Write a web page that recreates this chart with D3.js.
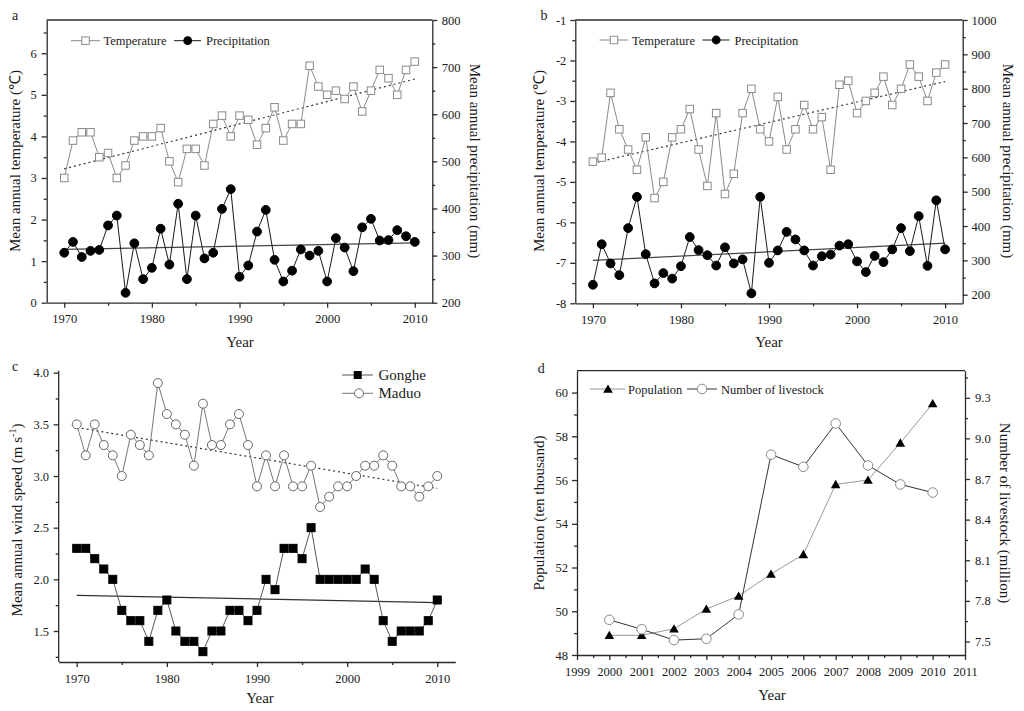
<!DOCTYPE html>
<html><head><meta charset="utf-8">
<script src="https://cdn.jsdelivr.net/npm/d3@7"></script>
<style>body{margin:0;background:#fff}</style>
</head><body><svg id="c" width="1024" height="711"></svg>
<script>
// ---------------- DATA ----------------
const years = [1970,1971,1972,1973,1974,1975,1976,1977,1978,1979,1980,1981,1982,1983,1984,1985,1986,1987,1988,1989,1990,1991,1992,1993,1994,1995,1996,1997,1998,1999,2000,2001,2002,2003,2004,2005,2006,2007,2008,2009,2010];
const tempA = [3.0,3.9,4.1,4.1,3.5,3.6,3.0,3.3,3.9,4.0,4.0,4.2,3.4,2.9,3.7,3.7,3.3,4.3,4.5,4.0,4.5,4.4,3.8,4.2,4.7,3.9,4.3,4.3,5.7,5.2,5.0,5.1,4.9,5.2,4.6,5.1,5.6,5.4,5.0,5.6,5.8];
const precA = [306,329,297,310,312,364,385,221,326,250,274,357,281,410,250,385,294,306,399,441,255,279,351,397,291,245,268,313,300,310,245,337,317,267,360,378,332,333,354,341,329];
const tempB = [-4.5,-4.4,-2.8,-3.7,-4.2,-4.7,-3.9,-5.4,-5.0,-3.9,-3.7,-3.2,-4.2,-5.1,-3.3,-5.3,-4.8,-3.3,-2.7,-3.7,-4.0,-2.9,-4.2,-3.7,-3.1,-3.7,-3.4,-4.7,-2.6,-2.5,-3.3,-3.0,-2.8,-2.4,-3.1,-2.7,-2.1,-2.4,-3.0,-2.3,-2.1];
const precB = [229,347,291,257,394,485,318,233,263,247,283,368,330,315,285,338,291,303,204,485,293,329,383,361,329,285,312,317,343,347,297,266,313,295,332,394,327,429,284,475,332];
const gonghe = [2.3,2.3,2.2,2.1,2.0,1.7,1.6,1.6,1.4,1.7,1.8,1.5,1.4,1.4,1.3,1.5,1.5,1.7,1.7,1.6,1.7,2.0,1.9,2.3,2.3,2.2,2.5,2.0,2.0,2.0,2.0,2.0,2.1,2.0,1.6,1.4,1.5,1.5,1.5,1.6,1.8];
const maduo = [3.5,3.2,3.5,3.3,3.2,3.0,3.4,3.3,3.2,3.9,3.6,3.5,3.4,3.1,3.7,3.3,3.3,3.5,3.6,3.3,2.9,3.2,2.9,3.2,2.9,2.9,3.1,2.7,2.8,2.9,2.9,3.0,3.1,3.1,3.2,3.1,2.9,2.9,2.8,2.9,3.0];
const yearsD = [2000,2001,2002,2003,2004,2005,2006,2007,2008,2009,2010];
const population = [48.9,48.9,49.2,50.1,50.7,51.7,52.6,55.8,56.0,57.7,59.5];
const livestock = [7.66,7.59,7.51,7.52,7.70,8.88,8.79,9.11,8.80,8.66,8.60];
// trend line end points (1970 and 2010)
const trendYears = [1970,2010];
const trendTempA = [3.22,5.38];
const trendPrecA = [313,327];
const trendTempB = [-4.54,-2.52];
const trendPrecB = [300,350];
const trendMaduo = [3.47,2.88];
const trendGonghe = [1.845,1.775];
// tick labels
const yearTicks = [1970,1980,1990,2000,2010];
const yearMinor = [1975,1985,1995,2005];
const ticksA_L = [0,1,2,3,4,5,6];
const minorA_L = [0.5,1.5,2.5,3.5,4.5,5.5,6.5];
const ticksA_R = [200,300,400,500,600,700,800];
const minorA_R = [250,350,450,550,650,750];
const ticksB_L = [-8,-7,-6,-5,-4,-3,-2,-1];
const minorB_L = [-7.5,-6.5,-5.5,-4.5,-3.5,-2.5,-1.5];
const ticksB_R = [200,300,400,500,600,700,800,900,1000];
const minorB_R = [250,350,450,550,650,750,850,950];
const ticksC = [1.5,2.0,2.5,3.0,3.5,4.0];
const minorC = [1.25,1.75,2.25,2.75,3.25,3.75];
const yearTicksD = [1999,2000,2001,2002,2003,2004,2005,2006,2007,2008,2009,2010,2011];
const yearMinorD = [1999.5,2000.5,2001.5,2002.5,2003.5,2004.5,2005.5,2006.5,2007.5,2008.5,2009.5,2010.5];
const ticksD_L = [48,50,52,54,56,58,60];
const minorD_L = [49,51,53,55,57,59];
const ticksD_R = [7.5,7.8,8.1,8.4,8.7,9.0,9.3];
const minorD_R = [7.65,7.95,8.25,8.55,8.85,9.15,9.45];

// ---------------- DRAWING ----------------
const F = '"Liberation Serif","Times New Roman",Times,serif';
const svg = d3.select('#c');
const AX = '#2b2b2b';

function axis(x, y, gen, scale, major, minor, fmt, pad) {
  const g = svg.append('g').attr('transform', `translate(${x},${y})`);
  g.call(gen(scale).tickValues(major).tickSize(5).tickSizeOuter(0).tickPadding(pad).tickFormat(fmt));
  const m = g.append('g').call(gen(scale).tickValues(minor).tickSize(3).tickSizeOuter(0).tickFormat(''));
  m.select('.domain').remove();
  g.selectAll('line,path').attr('stroke', AX).attr('stroke-width', 1.3);
  g.attr('font-family', F).attr('font-size', 12.5);
  g.selectAll('text').attr('fill', '#1a1a1a');
  return g;
}
function hline(x1, x2, y) {
  svg.append('line').attr('x1', x1).attr('x2', x2).attr('y1', y).attr('y2', y)
    .attr('stroke', AX).attr('stroke-width', 1.3);
}
function text(x, y, s, opts = {}) {
  const t = svg.append('text').attr('x', x).attr('y', y).text(s)
    .attr('font-family', F).attr('font-size', opts.size || 15).attr('fill', '#1a1a1a')
    .attr('text-anchor', opts.anchor || 'middle');
  return t;
}
function vtext(x, y, s, rot, size) {
  return svg.append('text').attr('transform', `translate(${x},${y}) rotate(${rot})`)
    .attr('dy', '0.35em').attr('text-anchor', 'middle')
    .attr('font-family', F).attr('font-size', size || 15).attr('fill', '#1a1a1a').text(s);
}
function line(xs, ys, sx, sy, color, width, dash) {
  const l = d3.line().x((d, i) => sx(xs[i])).y(d => sy(d));
  svg.append('path').datum(ys).attr('d', l).attr('fill', 'none')
    .attr('stroke', color).attr('stroke-width', width).attr('stroke-dasharray', dash || null);
}
function squares(xs, ys, sx, sy, s, fill, stroke) {
  svg.append('g').selectAll('rect').data(ys).join('rect')
    .attr('x', (d, i) => sx(xs[i]) - s / 2).attr('y', d => sy(d) - s / 2)
    .attr('width', s).attr('height', s).attr('fill', fill).attr('stroke', stroke).attr('stroke-width', 1);
}
function circles(xs, ys, sx, sy, r, fill, stroke) {
  svg.append('g').selectAll('circle').data(ys).join('circle')
    .attr('cx', (d, i) => sx(xs[i])).attr('cy', d => sy(d)).attr('r', r)
    .attr('fill', fill).attr('stroke', stroke).attr('stroke-width', 1);
}
function triangles(xs, ys, sx, sy, size, fill) {
  const sym = d3.symbol(d3.symbolTriangle, size);
  svg.append('g').selectAll('path').data(ys).join('path')
    .attr('transform', (d, i) => `translate(${sx(xs[i])},${sy(d) + 1})`)
    .attr('d', sym).attr('fill', fill);
}

const GRAY = '#8a8a8a';

// ---------- Panel a ----------
{
  const L = 46.7, R = 432.3, T = 20, B = 302.7;
  const x = d3.scaleLinear().domain([1968, 2012]).range([L, R]);
  const yL = d3.scaleLinear().domain([0, 6.8]).range([B, T]);
  const yR = d3.scaleLinear().domain([200, 800]).range([B, T]);
  axis(0, B, d3.axisBottom, x, yearTicks, yearMinor, d => d, 6);
  axis(L, 0, d3.axisLeft, yL, ticksA_L, minorA_L, d => d, 5);
  axis(R, 0, d3.axisRight, yR, ticksA_R, minorA_R, d => d, 4.4);
  hline(L, R, T);
  line(trendYears, trendTempA, x, yL, '#333', 1.2, '2,3');
  line(trendYears, trendPrecA, x, yR, '#444', 1.2);
  line(years, tempA, x, yL, GRAY, 1);
  squares(years, tempA, x, yL, 7.5, '#fff', GRAY);
  line(years, precA, x, yR, '#1a1a1a', 1);
  circles(years, precA, x, yR, 4.4, '#000', '#000');
  // legend
  svg.append('line').attr('x1', 71).attr('x2', 100).attr('y1', 40.7).attr('y2', 40.7).attr('stroke', GRAY);
  svg.append('rect').attr('x', 85.5 - 3.75).attr('y', 40.7 - 3.75).attr('width', 7.5).attr('height', 7.5).attr('fill', '#fff').attr('stroke', GRAY);
  text(103.5, 45.2, 'Temperature', { size: 12.5, anchor: 'start' });
  svg.append('line').attr('x1', 174).attr('x2', 201).attr('y1', 40.7).attr('y2', 40.7).attr('stroke', '#1a1a1a');
  svg.append('circle').attr('cx', 187.7).attr('cy', 40.7).attr('r', 4.4).attr('fill', '#000');
  text(206, 45.2, 'Precipitation', { size: 12.5, anchor: 'start' });
  vtext(15, 161, 'Mean annual temperature (℃)', -90);
  vtext(475, 161, 'Mean annual precipitation (mm)', 90);
  text(240, 347, 'Year');
  text(15, 20, 'a', { size: 14 });
}

// ---------- Panel b ----------
{
  const L = 575.3, R = 962.7, T = 20, B = 303.3;
  const x = d3.scaleLinear().domain([1968, 2012]).range([L, R]);
  const yL = d3.scaleLinear().domain([-8, -1]).range([B, T]);
  const yR = d3.scaleLinear().domain([175, 1000]).range([B, T]);
  axis(0, B, d3.axisBottom, x, yearTicks, yearMinor, d => d, 7);
  axis(L, 0, d3.axisLeft, yL, ticksB_L, minorB_L, d => String(d), 4);
  axis(R, 0, d3.axisRight, yR, ticksB_R, minorB_R, d => d, 3.8);
  hline(L, R, T);
  line(trendYears, trendTempB, x, yL, '#333', 1.2, '2,3');
  line(trendYears, trendPrecB, x, yR, '#444', 1.2);
  line(years, tempB, x, yL, GRAY, 1);
  squares(years, tempB, x, yL, 7.5, '#fff', GRAY);
  line(years, precB, x, yR, '#1a1a1a', 1);
  circles(years, precB, x, yR, 4.4, '#000', '#000');
  svg.append('line').attr('x1', 599.5).attr('x2', 628.5).attr('y1', 40).attr('y2', 40).attr('stroke', GRAY);
  svg.append('rect').attr('x', 614 - 3.75).attr('y', 40 - 3.75).attr('width', 7.5).attr('height', 7.5).attr('fill', '#fff').attr('stroke', GRAY);
  text(632, 44.5, 'Temperature', { size: 12.5, anchor: 'start' });
  svg.append('line').attr('x1', 702.5).attr('x2', 729.5).attr('y1', 40).attr('y2', 40).attr('stroke', '#1a1a1a');
  svg.append('circle').attr('cx', 716.2).attr('cy', 40).attr('r', 4.4).attr('fill', '#000');
  text(734.5, 44.5, 'Precipitation', { size: 12.5, anchor: 'start' });
  vtext(538.7, 161, 'Mean annual temperature (℃)', -90);
  vtext(1008.7, 161, 'Mean annual precipitation (mm)', 90);
  text(769, 347, 'Year');
  text(544, 20, 'b', { size: 14 });
}

// ---------- Panel c ----------
{
  const L = 58.7, R = 455.3, T = 372.7, B = 662;
  const x = d3.scaleLinear().domain([1968, 2012]).range([L, R]);
  const y = d3.scaleLinear().domain([1.2, 4.0]).range([B, T]);
  axis(0, B, d3.axisBottom, x, yearTicks, yearMinor, d => d, 7);
  const gl = axis(L, 0, d3.axisLeft, y, ticksC, minorC, d3.format('.1f'), 4.7);
  gl.select('.domain').attr('d', `M0,${B}V${T - 2}`);
  line(trendYears, trendMaduo, x, y, '#333', 1.2, '2,3');
  line(trendYears, trendGonghe, x, y, '#333', 1.2);
  line(years, maduo, x, y, '#777', 1);
  circles(years, maduo, x, y, 4.5, '#fff', '#666');
  line(years, gonghe, x, y, '#555', 1);
  squares(years, gonghe, x, y, 8, '#000', '#000');
  svg.append('line').attr('x1', 342).attr('x2', 373).attr('y1', 375).attr('y2', 375).attr('stroke', '#555');
  svg.append('rect').attr('x', 357.7 - 4).attr('y', 375 - 4).attr('width', 8).attr('height', 8).attr('fill', '#000');
  text(378.5, 380, 'Gonghe', { size: 15, anchor: 'start' });
  svg.append('line').attr('x1', 342).attr('x2', 373).attr('y1', 393.3).attr('y2', 393.3).attr('stroke', '#777');
  svg.append('circle').attr('cx', 359).attr('cy', 393.3).attr('r', 4.5).attr('fill', '#fff').attr('stroke', '#666');
  text(378.5, 398.3, 'Maduo', { size: 15, anchor: 'start' });
  const t = vtext(16.7, 520, '', -90);
  t.append('tspan').text('Mean annual wind speed (m s');
  t.append('tspan').text('-1').attr('font-size', 10).attr('dy', '-0.6em');
  t.append('tspan').text(')').attr('dy', '0.42em');
  text(260, 703, 'Year');
  text(15, 371, 'c', { size: 14 });
}

// ---------- Panel d ----------
{
  const L = 577, R = 965, T = 370.7, B = 655;
  const x = d3.scaleLinear().domain([1999, 2011]).range([L, R]);
  const yL = d3.scaleLinear().domain([48, 61]).range([B, T]);
  const yR = d3.scaleLinear().domain([7.4, 9.5]).range([B, T]);
  axis(0, B, d3.axisBottom, x, yearTicksD, yearMinorD, d => d, 7);
  axis(L, 0, d3.axisLeft, yL, ticksD_L, minorD_L, d => d, 4);
  axis(R, 0, d3.axisRight, yR, ticksD_R, minorD_R, d3.format('.1f'), 5);
  hline(L, R, T);
  line(yearsD, population, x, yL, '#999', 1);
  line(yearsD, livestock, x, yR, '#333', 1);
  triangles(yearsD, population, x, yL, 40, '#000');
  circles(yearsD, livestock, x, yR, 4.8, '#fff', '#888');
  svg.append('line').attr('x1', 590).attr('x2', 625).attr('y1', 389).attr('y2', 389).attr('stroke', '#999');
  svg.append('path').attr('transform', 'translate(608,390)').attr('d', d3.symbol(d3.symbolTriangle, 40)).attr('fill', '#000');
  text(628, 393.5, 'Population', { size: 12.5, anchor: 'start' });
  svg.append('line').attr('x1', 687).attr('x2', 717).attr('y1', 389).attr('y2', 389).attr('stroke', '#333');
  svg.append('circle').attr('cx', 702).attr('cy', 389).attr('r', 4.8).attr('fill', '#fff').attr('stroke', '#888');
  text(721, 393.5, 'Number of livestock', { size: 12.5, anchor: 'start' });
  vtext(538.7, 513, 'Population (ten thousand)', -90);
  vtext(1005, 513, 'Number of livestock (million)', 90);
  text(772, 700, 'Year');
  text(541.3, 372.5, 'd', { size: 14 });
}
</script></body></html>
